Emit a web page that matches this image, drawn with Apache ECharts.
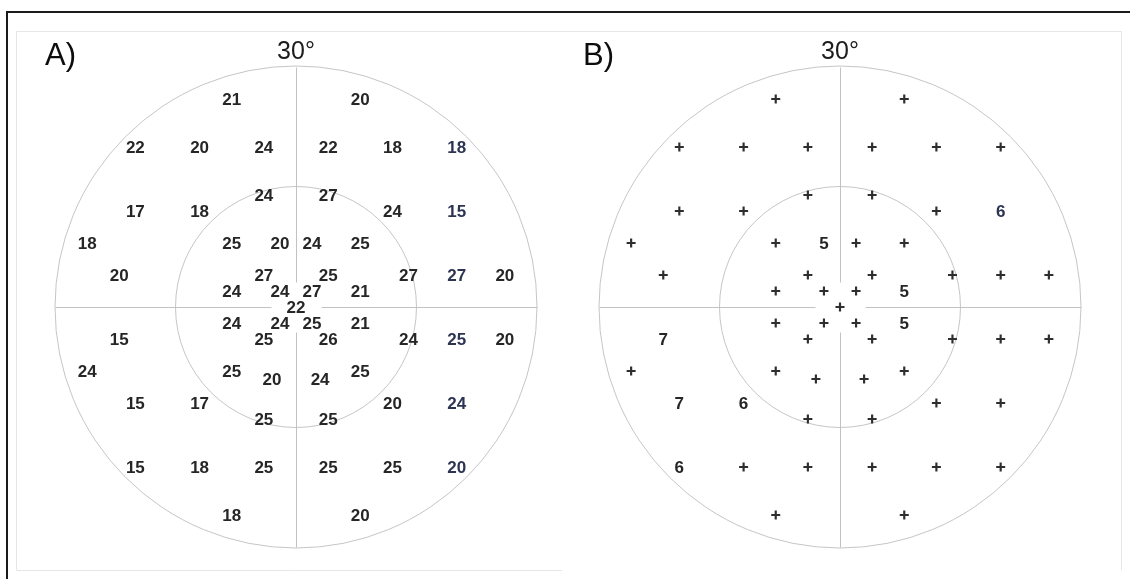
<!DOCTYPE html>
<html>
<head>
<meta charset="utf-8">
<title>Visual field 30°</title>
<style>
  html, body { margin: 0; padding: 0; background: #ffffff; }
  #chart { width: 1130px; height: 579px; }
</style>
<script src="https://cdn.jsdelivr.net/npm/echarts@6/dist/echarts.min.js"></script>
</head>
<body>
<div id="chart"></div>
<script>
// Test point locations in degrees (x: horizontal, y: vertical), shared by both maps
const ptX = [
  -8, 8,
  -20, -12, -4, 4, 12, 20,
  -4, 4,
  -20, -12, 12, 20,
  -26, -8, -2, 2, 8,
  -22, -4, 4, 14, 20, 26,
  -8, -2, 2, 8,
  0,
  -8, -2, 2, 8,
  -22, -4, 4, 14, 20, 26,
  -26, -8, -3, 3, 8,
  -20, -12, 12, 20,
  -4, 4,
  -20, -12, -4, 4, 12, 20,
  -8, 8
];
const ptY = [
  26, 26,
  20, 20, 20, 20, 20, 20,
  14, 14,
  12, 12, 12, 12,
  8, 8, 8, 8, 8,
  4, 4, 4, 4, 4, 4,
  2, 2, 2, 2,
  0,
  -2, -2, -2, -2,
  -4, -4, -4, -4, -4, -4,
  -8, -8, -9, -9, -8,
  -12, -12, -12, -12,
  -14, -14,
  -20, -20, -20, -20, -20, -20,
  -26, -26
];

// A) threshold sensitivity (dB) at each location
const sensA = [
  21, 20,
  22, 20, 24, 22, 18, 18,
  24, 27,
  17, 18, 24, 15,
  18, 25, 20, 24, 25,
  20, 27, 25, 27, 27, 20,
  24, 24, 27, 21,
  22,
  24, 24, 25, 21,
  15, 25, 26, 24, 25, 20,
  24, 25, 20, 24, 25,
  15, 17, 20, 24,
  25, 25,
  15, 18, 25, 25, 25, 20,
  18, 20
];

// B) deviation values; null = within normal limits (drawn as "+")
const devB = [
  null, null,
  null, null, null, null, null, null,
  null, null,
  null, null, null, 6,
  null, null, 5, null, null,
  null, null, null, null, null, null,
  null, null, null, 5,
  null,
  null, null, null, 5,
  7, null, null, null, null, null,
  null, null, null, null, null,
  7, 6, null, null,
  null, null,
  6, null, null, null, null, null,
  null, null
];

const rings = [15, 30];          // eccentricity rings (deg)
const ringLabel = '30°';
const panelNames = ['A)', 'B)'];
const centreGap = 3.1;           // gap in the meridians around fixation (deg)

const FONT = '"Liberation Sans", Arial, Helvetica, sans-serif';
const TEXT_COLOR = '#262626';

const dataA = ptX.map((x, i) => [x, ptY[i], sensA[i]]);
const dataBNum = [];
const dataBPlus = [];
ptX.forEach((x, i) => {
  if (devB[i] === null) dataBPlus.push([x, ptY[i]]);
  else dataBNum.push([x, ptY[i], devB[i]]);
});

// rings, meridians and the outer ring label
function renderFrame(params, api) {
  const c = api.coord([0, 0]);
  const children = [];
  rings.forEach(r => {
    const e = api.coord([r, 0]);
    children.push({
      type: 'circle',
      shape: { cx: c[0], cy: c[1], r: e[0] - c[0] },
      style: { fill: null, stroke: '#c6c6c6', lineWidth: 1 }
    });
  });
  const outer = rings[rings.length - 1];
  const segs = [
    [[0, outer], [0, centreGap]],
    [[0, -centreGap], [0, -outer]],
    [[-outer, 0], [-centreGap, 0]],
    [[centreGap, 0], [outer, 0]]
  ];
  segs.forEach(s => {
    const a = api.coord(s[0]);
    const b = api.coord(s[1]);
    children.push({
      type: 'line',
      shape: { x1: Math.round(a[0]) + 0.5, y1: Math.round(a[1]) + 0.5, x2: Math.round(b[0]) + 0.5, y2: Math.round(b[1]) + 0.5 },
      style: { stroke: '#c2c2c2', lineWidth: 1 }
    });
  });
  const top = api.coord([0, outer]);
  children.push({
    type: 'text',
    x: top[0],
    y: top[1] - 15,
    style: { text: ringLabel, align: 'center', verticalAlign: 'middle', font: '25px ' + FONT, fill: '#1c1c1c' }
  });
  return { type: 'group', children: children };
}

// numeric value at a test location
function renderValue(params, api) {
  const x = api.value(0);
  const p = api.coord([x, api.value(1)]);
  return {
    type: 'text',
    x: p[0],
    y: p[1] + 1.5,
    style: {
      text: String(api.value(2)),
      align: 'center',
      verticalAlign: 'middle',
      font: 'bold 17px ' + FONT,
      fill: x === 20 ? '#2c3452' : TEXT_COLOR
    }
  };
}

const axisBase = { type: 'value', min: -30, max: 30, show: false };

const option = {
  animation: false,
  backgroundColor: '#ffffff',
  title: panelNames.map((t, i) => ({
    text: t,
    left: i === 0 ? 45 : 583,
    top: 41,
    padding: 0,
    textStyle: { fontFamily: FONT, fontSize: 31, fontWeight: 'normal', color: '#0d0d0d' }
  })),
  grid: [
    { left: 55, top: 67, width: 482, height: 480 },
    { left: 599, top: 67, width: 482, height: 480 }
  ],
  xAxis: [
    Object.assign({ gridIndex: 0 }, axisBase),
    Object.assign({ gridIndex: 1 }, axisBase)
  ],
  yAxis: [
    Object.assign({ gridIndex: 0 }, axisBase),
    Object.assign({ gridIndex: 1 }, axisBase)
  ],
  graphic: [
    // outer border
    { type: 'line', silent: true, shape: { x1: 7, y1: 12, x2: 1130, y2: 12 }, style: { stroke: '#1a1a1a', lineWidth: 2 } },
    { type: 'line', silent: true, shape: { x1: 7, y1: 11, x2: 7, y2: 579 }, style: { stroke: '#1a1a1a', lineWidth: 2 } },
    // light inner panel
    { type: 'line', silent: true, shape: { x1: 16.5, y1: 31.5, x2: 1121.5, y2: 31.5 }, style: { stroke: '#e6e6e6', lineWidth: 1 } },
    { type: 'line', silent: true, shape: { x1: 16.5, y1: 31.5, x2: 16.5, y2: 570.5 }, style: { stroke: '#e6e6e6', lineWidth: 1 } },
    { type: 'line', silent: true, shape: { x1: 1121.5, y1: 31.5, x2: 1121.5, y2: 570 }, style: { stroke: '#e6e6e6', lineWidth: 1 } },
    { type: 'line', silent: true, shape: { x1: 16.5, y1: 570.5, x2: 562, y2: 570.5 }, style: { stroke: '#e6e6e6', lineWidth: 1 } }
  ],
  series: [
    { type: 'custom', xAxisIndex: 0, yAxisIndex: 0, data: [[0, 0]], renderItem: renderFrame, silent: true, z: 1 },
    { type: 'custom', xAxisIndex: 1, yAxisIndex: 1, data: [[0, 0]], renderItem: renderFrame, silent: true, z: 1 },
    { type: 'custom', name: 'Sensitivity', xAxisIndex: 0, yAxisIndex: 0, data: dataA, renderItem: renderValue, z: 3 },
    { type: 'custom', name: 'Deviation', xAxisIndex: 1, yAxisIndex: 1, data: dataBNum, renderItem: renderValue, z: 3 },
    {
      type: 'scatter',
      name: 'Normal',
      xAxisIndex: 1,
      yAxisIndex: 1,
      data: dataBPlus,
      symbol: 'path://M3.8,0H6.2V3.8H10V6.2H6.2V10H3.8V6.2H0V3.8H3.8Z',
      symbolSize: 9,
      itemStyle: { color: '#2e2e2e', opacity: 1 },
      z: 3
    }
  ]
};

const chart = echarts.init(document.getElementById('chart'), null, { renderer: 'canvas' });
chart.setOption(option);
</script>
</body>
</html>
